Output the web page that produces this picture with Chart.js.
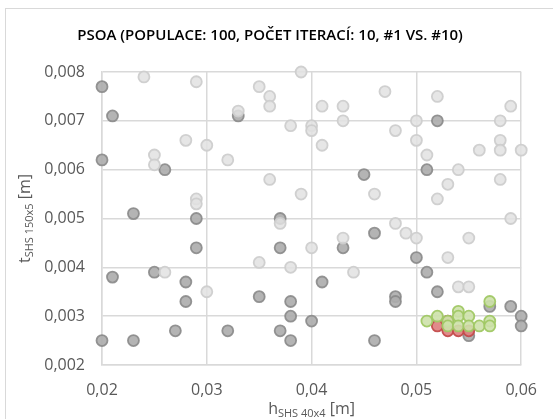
<!DOCTYPE html>
<html><head><meta charset="utf-8">
<script src="https://cdn.jsdelivr.net/npm/chart.js@4/dist/chart.umd.min.js"></script>
<style>html,body{margin:0;padding:0;background:#fff;}canvas{display:block}</style>
</head><body>
<canvas id="c" width="553" height="419"></canvas>
<script>
const chartTitle = "PSOA (POPULACE: 100, POČET ITERACÍ: 10, #1 VS. #10)";
const xTitleParts = ["h", "SHS 40x4", " [m]"];
const yTitleParts = ["t", "SHS 150x5", " [m]"];
const xTickValues = [0.02, 0.03, 0.04, 0.05, 0.06];
const xTickLabels = ["0,02", "0,03", "0,04", "0,05", "0,06"];
const yTickValues = [0.002, 0.003, 0.004, 0.005, 0.006, 0.007, 0.008];
const yTickLabels = ["0,002", "0,003", "0,004", "0,005", "0,006", "0,007", "0,008"];

// dark grey points
const darkH = [0.020,0.021,0.033,0.020,0.026,0.023,0.029,0.045,0.037,0.052,0.051,0.029,0.021,0.025,0.028,0.028,0.027,0.032,0.020,0.023,0.046,0.037,0.043,0.041,0.035,0.038,0.038,0.040,0.037,0.038,0.046,0.050,0.051,0.052,0.048,0.048,0.059,0.060,0.060,0.057,0.055];
const darkT = [0.0077,0.0071,0.0071,0.0062,0.0060,0.0051,0.0050,0.0059,0.0050,0.0070,0.0060,0.0044,0.0038,0.0039,0.0037,0.0033,0.0027,0.0027,0.0025,0.0025,0.0047,0.0044,0.0044,0.0037,0.0034,0.0033,0.0030,0.0029,0.0027,0.0025,0.0025,0.0042,0.0039,0.0035,0.0034,0.0033,0.0032,0.0030,0.0028,0.0032,0.0026];
// light grey points
const lightH = [0.024,0.029,0.033,0.028,0.030,0.025,0.025,0.032,0.029,0.029,0.039,0.035,0.036,0.036,0.041,0.043,0.043,0.047,0.038,0.040,0.040,0.041,0.036,0.039,0.046,0.037,0.052,0.059,0.050,0.058,0.048,0.050,0.058,0.056,0.058,0.060,0.051,0.054,0.053,0.058,0.052,0.059,0.048,0.026,0.030,0.049,0.050,0.055,0.053,0.054,0.055,0.043,0.040,0.035,0.038,0.044];
const lightT = [0.0079,0.0078,0.0072,0.0066,0.0065,0.0063,0.0061,0.0062,0.0054,0.0053,0.0080,0.0077,0.0075,0.0073,0.0073,0.0073,0.0070,0.0076,0.0069,0.0069,0.0068,0.0065,0.0058,0.0055,0.0055,0.0049,0.0075,0.0073,0.0070,0.0070,0.0068,0.0066,0.0066,0.0064,0.0064,0.0064,0.0063,0.0060,0.0057,0.0058,0.0054,0.0050,0.0049,0.0039,0.0035,0.0047,0.0046,0.0046,0.0042,0.0036,0.0036,0.0046,0.0044,0.0041,0.0040,0.0039];
// red points
const redH = [0.052,0.053,0.053,0.054,0.055];
const redT = [0.0028,0.0029,0.0027,0.0027,0.0027];
// green points
const greenH = [0.051,0.052,0.053,0.053,0.054,0.054,0.054,0.055,0.055,0.056,0.057,0.057,0.057];
const greenT = [0.0029,0.0030,0.0029,0.0028,0.0031,0.0030,0.0028,0.0030,0.0028,0.0028,0.0033,0.0029,0.0028];

const pts = (xs, ys) => xs.map((x, i) => ({x: x, y: ys[i]}));

const FONT = "'Open Sans', 'DejaVu Sans', sans-serif";

function drawParts(ctx, parts, cx, baseY) {
  const specs = [
    {size: 16, dy: 0},
    {size: 11, dy: 3},
    {size: 16, dy: 0}
  ];
  let widths = parts.map((p, i) => { ctx.font = specs[i].size + "px " + FONT; return ctx.measureText(p).width; });
  const total = widths.reduce((a, b) => a + b, 0);
  let x = cx - total / 2;
  ctx.textAlign = 'left';
  ctx.textBaseline = 'alphabetic';
  parts.forEach((p, i) => {
    ctx.font = specs[i].size + "px " + FONT;
    ctx.fillText(p, x, baseY + specs[i].dy);
    x += widths[i];
  });
}

const decor = {
  id: 'decor',
  beforeDraw(chart) {
    const ctx = chart.ctx;
    ctx.save();
    ctx.fillStyle = '#ffffff';
    ctx.fillRect(0, 0, chart.width, chart.height);
    ctx.strokeStyle = '#d9d9d9';
    ctx.lineWidth = 1;
    ctx.strokeRect(5.5, 8.5, 700, 700);
    ctx.restore();
  },
  afterDraw(chart) {
    const ctx = chart.ctx;
    const ca = chart.chartArea;
    ctx.save();
    ctx.fillStyle = '#000000';
    ctx.font = "600 15px " + FONT;
    ctx.textAlign = 'center';
    ctx.textBaseline = 'alphabetic';
    ctx.fillText(chartTitle, 270, 40);
    ctx.fillStyle = '#595959';
    drawParts(ctx, xTitleParts, (ca.left + ca.right) / 2, 414);
    ctx.translate(30, (ca.top + ca.bottom) / 2);
    ctx.rotate(-Math.PI / 2);
    drawParts(ctx, yTitleParts, 0, 0);
    ctx.restore();
  }
};

const common = {pointRadius: 5.5, pointHoverRadius: 5.5, pointBorderWidth: 1.8, showLine: false, clip: false};

new Chart(document.getElementById('c'), {
  type: 'scatter',
  data: {
    datasets: [
      Object.assign({label: 'green', data: pts(greenH, greenT), order: 1,
        backgroundColor: 'rgba(205,225,170,0.9)', borderColor: 'rgba(160,200,100,0.95)'}, common),
      Object.assign({label: 'red', data: pts(redH, redT), order: 2,
        backgroundColor: 'rgba(222,125,125,0.9)', borderColor: 'rgba(195,75,75,0.95)'}, common),
      Object.assign({label: 'light', data: pts(lightH, lightT), order: 3,
        backgroundColor: 'rgba(226,226,226,0.85)', borderColor: 'rgba(206,206,206,0.95)'}, common),
      Object.assign({label: 'dark', data: pts(darkH, darkT), order: 4,
        backgroundColor: 'rgba(172,172,172,0.9)', borderColor: 'rgba(138,138,138,0.9)'}, common)
    ]
  },
  options: {
    responsive: false,
    animation: false,
    devicePixelRatio: 1,
    layout: {padding: {left: 0, top: 72, right: 23, bottom: 0}},
    plugins: {legend: {display: false}, title: {display: false}, tooltip: {enabled: false}},
    scales: {
      x: {
        type: 'linear', min: 0.02, max: 0.06,
        afterBuildTicks: s => { s.ticks = xTickValues.map(v => ({value: v})); },
        afterFit: s => { s.height = 54; },
        grid: {color: '#d9d9d9', lineWidth: 1.5, drawTicks: false},
        border: {color: '#d9d9d9', width: 1.5},
        ticks: {padding: 16, color: '#595959', font: {family: FONT, size: 16},
          callback: (v, i) => xTickLabels[i]}
      },
      y: {
        type: 'linear', min: 0.002, max: 0.008,
        afterBuildTicks: s => { s.ticks = yTickValues.map(v => ({value: v})); },
        afterFit: s => { s.width = 102; },
        grid: {color: '#d9d9d9', lineWidth: 1.5, drawTicks: false},
        border: {color: '#d9d9d9', width: 1.5},
        ticks: {padding: 17, color: '#595959', font: {family: FONT, size: 16},
          callback: (v, i) => yTickLabels[i]}
      }
    }
  },
  plugins: [decor]
});
</script>
</body></html>
